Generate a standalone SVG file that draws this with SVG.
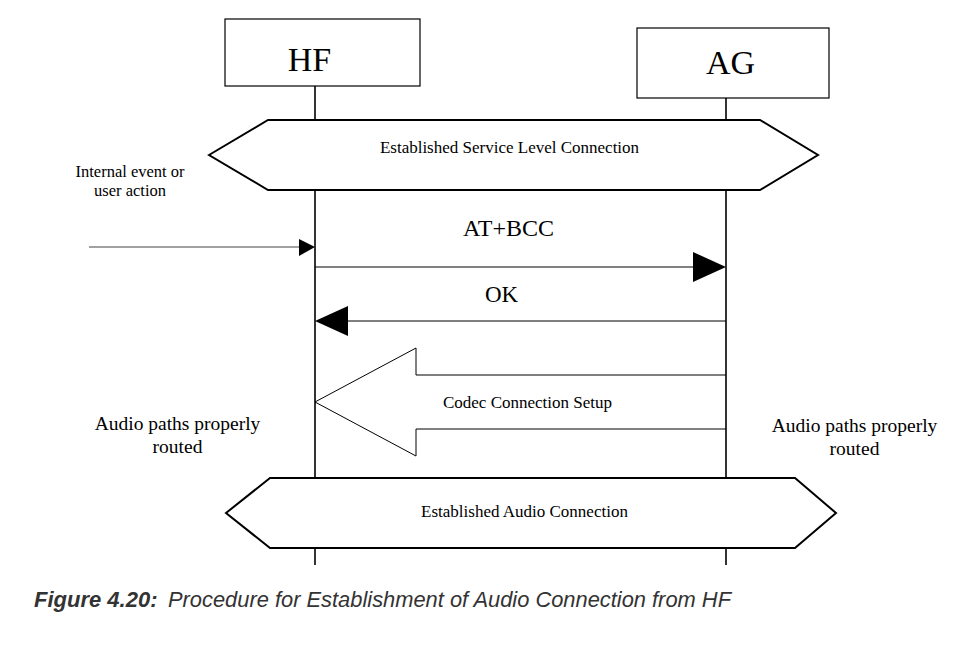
<svg xmlns="http://www.w3.org/2000/svg" width="976" height="645" viewBox="0 0 976 645">
<style>
.box{fill:#fff;stroke:#000;stroke-width:1.2}
.hex{fill:#fff;stroke:#000;stroke-width:2}
.life{stroke:#000;stroke-width:1.6;fill:none}
.line{stroke:#000;stroke-width:1;fill:none}
.t{font-family:"Liberation Serif",serif;fill:#000;text-anchor:middle}
.cap{font-family:"Liberation Sans",Arial,sans-serif;font-style:italic;fill:#333;font-size:22px}
</style>
<rect width="976" height="645" fill="#fff"/>
<g id="lifelines">
<line class="life" x1="315" y1="86" x2="315" y2="565"/>
<line class="life" x1="726" y1="98" x2="726" y2="565"/>
</g>
<g id="HF">
<rect class="box" x="225" y="19" width="195" height="67"/>
<text class="t" x="309.5" y="71" font-size="34">HF</text>
</g>
<g id="AG">
<rect class="box" x="637" y="28" width="192" height="70"/>
<text class="t" x="730.5" y="74" font-size="34">AG</text>
</g>
<g id="slc">
<polygon class="hex" points="209,155 268,120 760,120 818,155 760,190 268,190"/>
<text class="t" x="509.5" y="153" font-size="17">Established Service Level Connection</text>
</g>
<g id="internal">
<text class="t" x="130" y="176.5" font-size="16.5">Internal event or</text>
<text class="t" x="130" y="195.5" font-size="16.5">user action</text>
</g>
<g id="connectors">
<line x1="89" y1="247" x2="300" y2="247" stroke="#444" stroke-width="1.2"/>
<polygon points="299,239 315,247 299,256" fill="#000"/>
<line class="line" x1="315" y1="267" x2="695" y2="267"/>
<polygon points="693,252 726,267 693,282" fill="#000"/>
<text class="t" x="508.5" y="236" font-size="24">AT+BCC</text>
<line class="line" x1="346" y1="321" x2="726" y2="321"/>
<polygon points="348,306 315,321 348,336" fill="#000"/>
<text class="t" x="501.5" y="301.5" font-size="23">OK</text>
</g>
<g id="codec">
<polyline class="line" points="726,375 416,375 416,348 315,402 416,456 416,429 726,429"/>
<text class="t" x="527.5" y="407.5" font-size="17">Codec Connection Setup</text>
</g>
<g id="audio-left">
<text class="t" x="177.5" y="430" font-size="19.5">Audio paths properly</text>
<text class="t" x="177.5" y="453" font-size="19.5">routed</text>
</g>
<g id="audio-right">
<text class="t" x="854.5" y="432" font-size="19.5">Audio paths properly</text>
<text class="t" x="854.5" y="455" font-size="19.5">routed</text>
</g>
<g id="audio-conn">
<polygon class="hex" points="226,513 270,478 795,478 836,513 795,548 270,548"/>
<text class="t" x="524.5" y="516.5" font-size="17">Established Audio Connection</text>
</g>
<g id="caption">
<text class="cap" x="34" y="607" font-weight="bold">Figure 4.20:</text>
<text class="cap" x="168" y="607" textLength="563" lengthAdjust="spacingAndGlyphs">Procedure for Establishment of Audio Connection from HF</text>
</g>
</svg>
